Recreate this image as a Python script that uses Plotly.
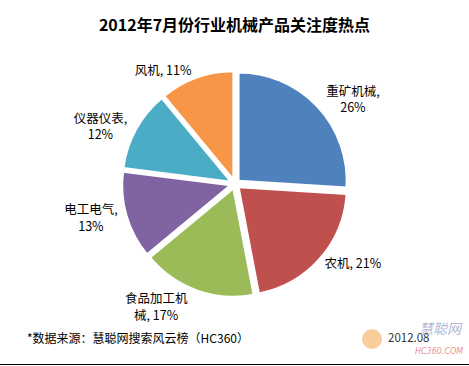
import plotly.graph_objects as go

categories = ["重矿机械", "农机", "食品加工机械", "电工电气", "仪器仪表", "风机"]
values = [26, 21, 17, 13, 12, 11]
label_text = ["重矿机械,<br>26%", "农机, 21%", "食品加工机<br>械, 17%", "电工电气,<br>13%", "仪器仪表,<br>12%", "风机, 11%"]
colors = ["#4F81BD", "#C0504D", "#9BBB59", "#8064A2", "#4BACC6", "#F79646"]

title = "2012年7月份行业机械产品关注度热点"
source = "*数据来源：慧聪网搜索风云榜（HC360）"
date = "2012.08"

W, H = 469, 366
cx, cy, R = 235, 184, 113

fig = go.Figure(go.Pie(
    labels=categories,
    values=values,
    text=label_text,
    textinfo="text",
    textposition="outside",
    sort=False,
    direction="clockwise",
    rotation=0,
    pull=[0.045] * len(values),
    marker=dict(colors=colors, line=dict(color="white", width=2)),
    textfont=dict(family="Noto Sans CJK SC", size=12.5, color="#000000"),
    outsidetextfont=dict(family="Noto Sans CJK SC", size=12.5, color="#000000"),
    showlegend=False,
    hoverinfo="label+percent",
    domain=dict(x=[(cx - R) / W, (cx + R) / W], y=[1 - (cy + R) / H, 1 - (cy - R) / H]),
))

fig.update_layout(
    width=W, height=H,
    margin=dict(l=0, r=0, t=0, b=0),
    paper_bgcolor="white",
    plot_bgcolor="white",
    font=dict(family="Noto Sans CJK SC", color="#000000"),
    title=dict(text="<b>" + title + "</b>", x=0.5, xanchor="center", y=1 - 25 / H, yanchor="middle",
               font=dict(family="Noto Sans CJK SC", size=16, color="#000000")),
    annotations=[
        dict(text=source, x=25 / W, y=1 - 337 / H, xref="paper", yref="paper", xanchor="left", yanchor="middle",
             showarrow=False, font=dict(family="Noto Sans CJK SC", size=12, color="#000000")),
        dict(text=date, x=386 / W, y=1 - 337 / H, xref="paper", yref="paper", xanchor="left", yanchor="middle",
             showarrow=False, font=dict(family="Noto Sans CJK SC", size=11.5, color="#333333")),
        dict(text="<i>慧聪网</i>", x=465 / W, y=1 - 328 / H, xref="paper", yref="paper", xanchor="right", yanchor="middle",
             showarrow=False, font=dict(family="Noto Sans CJK SC", size=14, color="rgba(150,160,200,0.75)")),
        dict(text="<i>HC360.COM</i>", x=465 / W, y=1 - 351 / H, xref="paper", yref="paper", xanchor="right", yanchor="middle",
             showarrow=False, font=dict(family="DejaVu Sans", size=8, color="rgba(230,120,120,0.85)")),
    ],
    shapes=[
        dict(type="circle", xref="paper", yref="paper",
             x0=362 / W, x1=382 / W, y0=1 - 349 / H, y1=1 - 329 / H,
             fillcolor="rgba(245,170,90,0.6)", line=dict(width=0), layer="below"),
        dict(type="line", xref="paper", yref="paper", x0=0, x1=1, y0=1 - 364.5 / H, y1=1 - 364.5 / H,
             line=dict(color="#000000", width=1)),
    ],
)

fig.write_html("out.html", config={"displayModeBar": False},
               post_script="document.body.style.margin='0';document.body.style.overflow='hidden';")
